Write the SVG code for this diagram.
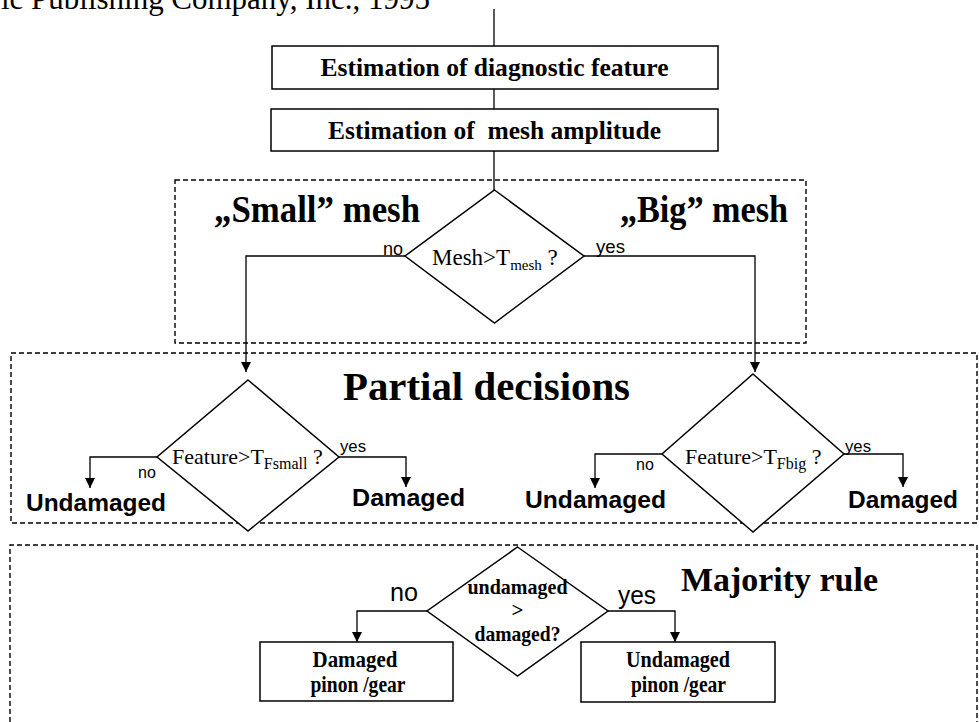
<svg xmlns="http://www.w3.org/2000/svg" width="979" height="722" viewBox="0 0 979 722">
<style>
.serif{font-family:"Liberation Serif","Times New Roman",serif;fill:#000}
.sans{font-family:"Liberation Sans",Arial,sans-serif;fill:#000}
.b{font-weight:bold}
.shape{fill:#fff;stroke:#000;stroke-width:1.5}
.dash{fill:none;stroke:#000;stroke-width:1.4;stroke-dasharray:5 3}
.conn{fill:none;stroke:#000;stroke-width:1.3}
</style>
<defs>
<marker id="ah" viewBox="0 0 10 10" refX="10" refY="5" markerWidth="11" markerHeight="10" markerUnits="userSpaceOnUse" orient="auto"><path d="M0,0 L10,5 L0,10 z" fill="#000"/></marker>
</defs>
<rect width="979" height="722" fill="#fff"/>
<text class="serif" x="1" y="9" font-size="31" textLength="429" lengthAdjust="spacingAndGlyphs">ic Publishing Company, Inc., 1995</text>

<g id="group-mesh"><rect class="dash" x="175" y="180" width="631" height="163"/>
<text class="serif b" x="214" y="222" font-size="37" textLength="206" lengthAdjust="spacingAndGlyphs">„Small” mesh</text>
<text class="serif b" x="620" y="222" font-size="37" textLength="168" lengthAdjust="spacingAndGlyphs">„Big” mesh</text></g>
<g id="group-partial"><rect class="dash" x="11" y="353" width="966" height="170"/>
<text class="serif b" x="343" y="400" font-size="40" textLength="287" lengthAdjust="spacingAndGlyphs">Partial decisions</text></g>
<g id="group-majority"><path class="dash" d="M10,722 V545 H977 V722"/>
<text class="serif b" x="681" y="591" font-size="33" textLength="197" lengthAdjust="spacingAndGlyphs">Majority rule</text></g>

<g id="connectors">
<path class="conn" d="M494,9 V46"/>
<path class="conn" d="M494,89 V109"/>
<path class="conn" d="M494,151 V190"/>
<path class="conn" d="M405,256 H246 V372" marker-end="url(#ah)"/>
<path class="conn" d="M584,256 H755 V372" marker-end="url(#ah)"/>
<path class="conn" d="M157,457 H90 V488" marker-end="url(#ah)"/>
<path class="conn" d="M339,457 H406 V487" marker-end="url(#ah)"/>
<path class="conn" d="M662,454 H595 V488" marker-end="url(#ah)"/>
<path class="conn" d="M844,454 H903 V487" marker-end="url(#ah)"/>
<path class="conn" d="M427,611 H357 V642" marker-end="url(#ah)"/>
<path class="conn" d="M608,611 H675 V642" marker-end="url(#ah)"/>
<text class="sans" x="383" y="255" font-size="18">no</text>
<text class="sans" x="596" y="253" font-size="18" textLength="29" lengthAdjust="spacingAndGlyphs">yes</text>
<text class="sans" x="138" y="478" font-size="16">no</text>
<text class="sans" x="340" y="452" font-size="16" textLength="26" lengthAdjust="spacingAndGlyphs">yes</text>
<text class="sans" x="636" y="470" font-size="16">no</text>
<text class="sans" x="845" y="452" font-size="16" textLength="26" lengthAdjust="spacingAndGlyphs">yes</text>
<text class="sans" x="390" y="601" font-size="26" textLength="28" lengthAdjust="spacingAndGlyphs">no</text>
<text class="sans" x="618" y="604" font-size="26" textLength="38" lengthAdjust="spacingAndGlyphs">yes</text>
</g>

<g id="box-feature"><rect class="shape" x="272" y="46" width="446" height="43"/>
<text class="serif b" x="494.5" y="75.5" font-size="25.5" text-anchor="middle" textLength="348" lengthAdjust="spacingAndGlyphs">Estimation of diagnostic feature</text></g>
<g id="box-mesh"><rect class="shape" x="271" y="109" width="447" height="42"/>
<text class="serif b" x="494.5" y="139" font-size="25.5" text-anchor="middle" xml:space="preserve" textLength="333" lengthAdjust="spacingAndGlyphs">Estimation of  mesh amplitude</text></g>

<g id="dec-mesh"><polygon class="shape" points="494.5,190 584,256 494.5,323 405,256"/>
<text class="serif" x="432" y="265" font-size="23">Mesh&gt;T<tspan font-size="15" dy="5">mesh</tspan><tspan dy="-5"> ?</tspan></text></g>

<g id="dec-small"><polygon class="shape" points="248,380 339,457 248,531 157,457"/>
<text class="serif" x="172" y="463.5" font-size="22">Feature&gt;T<tspan font-size="16" dy="5">Fsmall</tspan><tspan dy="-5"> ?</tspan></text></g>
<g id="dec-big"><polygon class="shape" points="753,374 844,454 753,532 662,454"/>
<text class="serif" x="685" y="463.5" font-size="22">Feature&gt;T<tspan font-size="16" dy="5">Fbig</tspan><tspan dy="-5"> ?</tspan></text></g>

<g id="out-undamaged-small"><text class="sans b" x="26" y="511" font-size="24" textLength="140" lengthAdjust="spacingAndGlyphs">Undamaged</text></g>
<g id="out-damaged-small"><text class="sans b" x="352" y="506" font-size="24" textLength="113" lengthAdjust="spacingAndGlyphs">Damaged</text></g>
<g id="out-undamaged-big"><text class="sans b" x="525" y="508" font-size="24" textLength="141" lengthAdjust="spacingAndGlyphs">Undamaged</text></g>
<g id="out-damaged-big"><text class="sans b" x="848" y="508" font-size="24" textLength="110" lengthAdjust="spacingAndGlyphs">Damaged</text></g>

<g id="dec-majority"><polygon class="shape" points="517.5,547 608,611 517.5,676 427,611"/>
<text class="serif b" x="517.5" y="594" font-size="21" text-anchor="middle" textLength="100" lengthAdjust="spacingAndGlyphs">undamaged</text>
<text class="serif b" x="517.5" y="617" font-size="21" text-anchor="middle">&gt;</text>
<text class="serif b" x="517.5" y="641" font-size="21" text-anchor="middle" textLength="86" lengthAdjust="spacingAndGlyphs">damaged?</text></g>

<g id="box-damaged"><rect class="shape" x="260" y="642" width="193" height="59"/>
<text class="serif b" x="355" y="666.5" font-size="24" text-anchor="middle" textLength="85" lengthAdjust="spacingAndGlyphs">Damaged</text>
<text class="serif b" x="358" y="692" font-size="24" text-anchor="middle" textLength="95" lengthAdjust="spacingAndGlyphs">pinon /gear</text></g>
<g id="box-undamaged"><rect class="shape" x="581" y="642" width="194" height="60"/>
<text class="serif b" x="678" y="666.5" font-size="24" text-anchor="middle" textLength="104" lengthAdjust="spacingAndGlyphs">Undamaged</text>
<text class="serif b" x="678.5" y="692" font-size="24" text-anchor="middle" textLength="95" lengthAdjust="spacingAndGlyphs">pinon /gear</text></g>
</svg>
